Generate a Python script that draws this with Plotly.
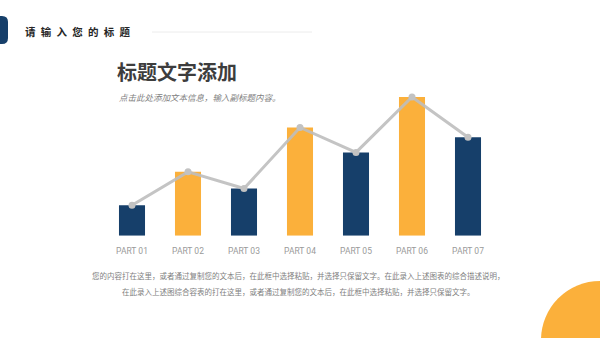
import plotly.graph_objects as go

# Chart data
categories = ["PART 01", "PART 02", "PART 03", "PART 04", "PART 05", "PART 06", "PART 07"]
values = [2.2, 4.6, 3.4, 7.8, 6.0, 10.0, 7.1]
bar_colors = ["#163f6a", "#fbb03b", "#163f6a", "#fbb03b", "#163f6a", "#fbb03b", "#163f6a"]

W, H = 600, 338
CJK = "Noto Sans CJK SC"


def px(x):
    return x / W


def py(y):
    return 1 - y / H


fig = go.Figure()

fig.add_trace(go.Bar(
    x=categories, y=values,
    marker=dict(color=bar_colors, line=dict(width=0)),
    width=0.465,
    hoverinfo="skip",
))

fig.add_trace(go.Scatter(
    x=categories, y=values,
    mode="lines+markers",
    line=dict(color="rgba(190,190,190,0.9)", width=3),
    marker=dict(color="#c2c2c2", size=7),
    hoverinfo="skip",
))

shapes = [
    # rounded tab at the top-left
    dict(type="path", xref="paper", yref="paper",
         path=f"M {px(-10)} {py(16)} L {px(2)} {py(16)} Q {px(8)} {py(16)} {px(8)} {py(22)} "
              f"L {px(8)} {py(38)} Q {px(8)} {py(44)} {px(2)} {py(44)} L {px(-10)} {py(44)} Z",
         fillcolor="#163f6a", line=dict(width=0), layer="above"),
    # thin divider next to the header
    dict(type="line", xref="paper", yref="paper",
         x0=px(152), x1=px(312), y0=py(32), y1=py(32),
         line=dict(color="#ececec", width=1)),
    # orange quarter circle in the corner
    dict(type="circle", xref="paper", yref="paper",
         x0=px(600 - 59), x1=px(600 + 59), y0=py(340 - 59), y1=py(340 + 59),
         fillcolor="#fbb03b", line=dict(width=0), layer="below"),
]


def label(text, x, y, size, color, xanchor="left"):
    return dict(text=text, xref="paper", yref="paper", x=px(x), y=py(y),
                xanchor=xanchor, yanchor="middle", showarrow=False,
                font=dict(family=CJK, size=size, color=color))


header = "\u2002".join("请输入您的标题")

annotations = [
    label(f"<b>{header}</b>", 23, 31, 10.5, "#262626"),
    label("<b>标题文字添加</b>", 115, 72, 20, "#3d3d3d"),
    label("<i>点击此处添加文本信息，输入副标题内容。</i>", 117, 97.5, 8.5, "#808080"),
    label("您的内容打在这里，或者通过复制您的文本后，在此框中选择粘贴，并选择只保留文字。在此录入上述图表的综合描述说明，",
          298, 275.5, 7.5, "#7f7f7f", "center"),
    label("在此录入上述图综合容表的打在这里，或者通过复制您的文本后，在此框中选择粘贴，并选择只保留文字。",
          298, 291.5, 7.5, "#7f7f7f", "center"),
]

fig.update_layout(
    width=W, height=H,
    margin=dict(l=0, r=0, t=0, b=0),
    paper_bgcolor="white", plot_bgcolor="white",
    showlegend=False,
    shapes=shapes,
    annotations=annotations,
    xaxis=dict(domain=[px(104), px(496)], range=[-0.5, 6.5], type="category",
               showgrid=False, zeroline=False, showline=False, ticks="",
               ticklabelstandoff=9,
               automargin=False, fixedrange=True,
               tickfont=dict(family="Roboto", size=8.5, color="#9a9a9a")),
    yaxis=dict(domain=[py(235.7), py(90)], range=[0, 10.5],
               showgrid=False, zeroline=False, showline=False, showticklabels=False,
               automargin=False, fixedrange=True),
)

fig.write_html("out.html")
